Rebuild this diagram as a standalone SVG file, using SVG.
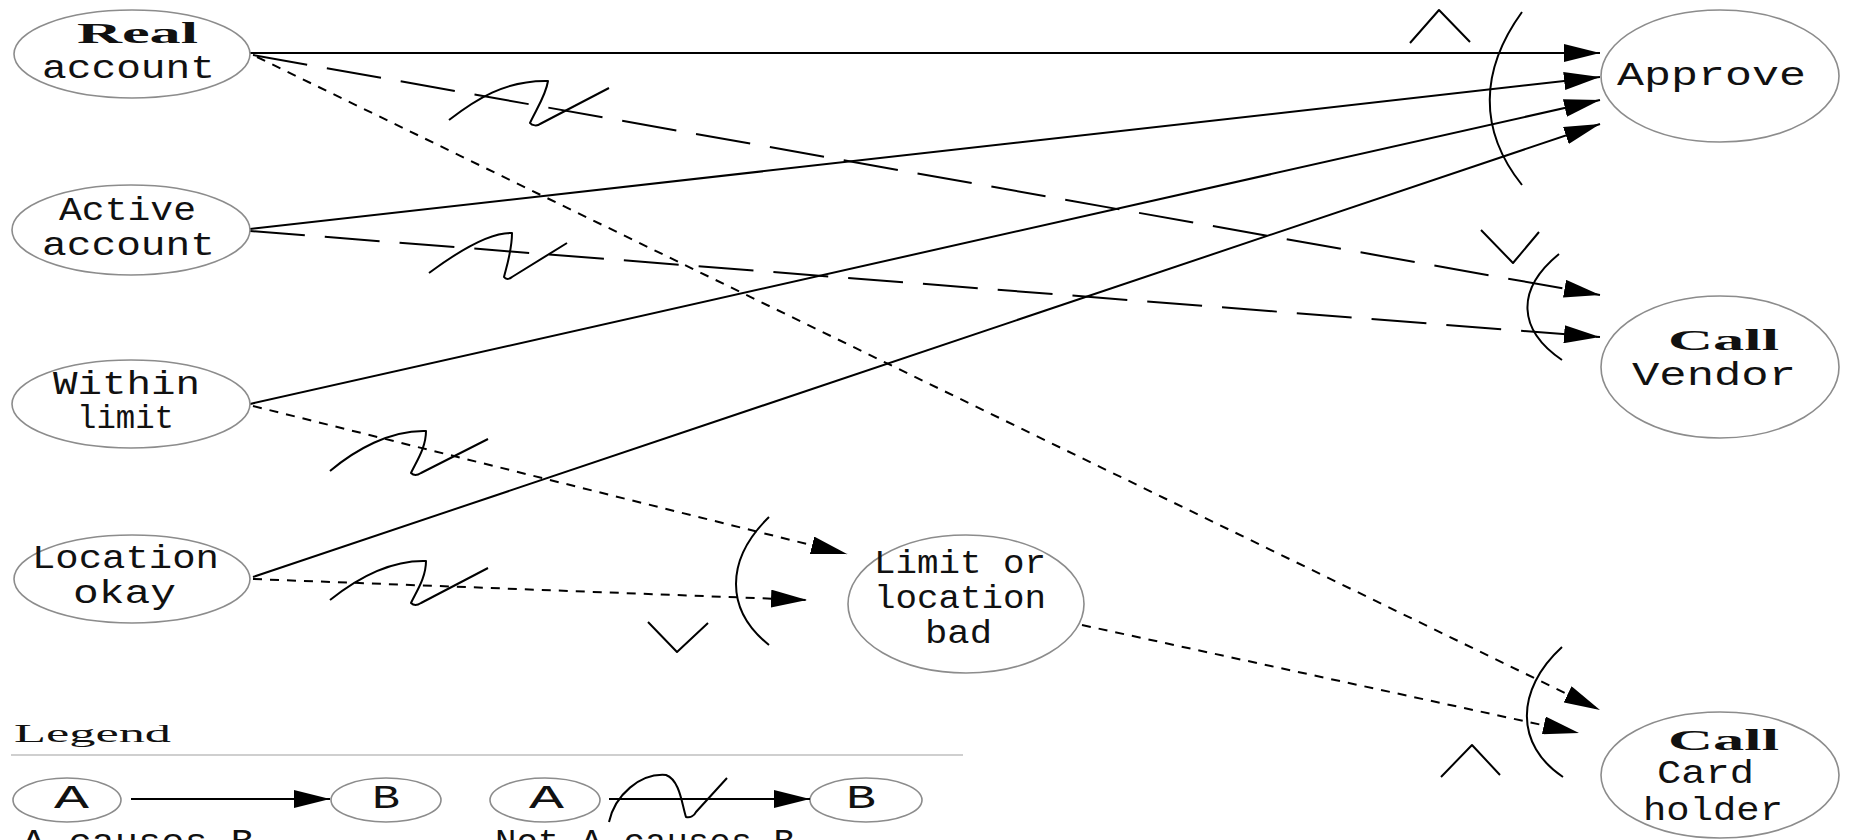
<svg xmlns="http://www.w3.org/2000/svg" width="1849" height="840" viewBox="0 0 1849 840">
<style>
.node ellipse{fill:#fff;stroke:#8c8c8c;stroke-width:1.6}
.lbl{font-family:"Liberation Mono",monospace;font-size:33px;fill:#111}
.bld{font-family:"Liberation Serif",serif;font-weight:bold;font-size:29px;fill:#111}
.ln{stroke:#000;stroke-width:2;fill:none}
.ld{stroke-dasharray:55 20}
.sd{stroke-dasharray:9 8}
.sym{stroke:#000;stroke-width:2;fill:none;stroke-linejoin:round}
.leg{font-family:"Liberation Serif",serif;font-size:26px;fill:#111}
</style>
<defs>
<marker id="ah" markerUnits="userSpaceOnUse" markerWidth="36" markerHeight="18" refX="36" refY="9" orient="auto"><path d="M0,0 L36,9 L0,18 Z" fill="#000"/></marker>
</defs>
<rect width="1849" height="840" fill="#fff"/>
<g id="connectors">
<path class="ln" d="M250,53 L1600,53" marker-end="url(#ah)"/>
<path class="ln" d="M250,229 L1600,77" marker-end="url(#ah)"/>
<path class="ln" d="M250,404 L1600,100" marker-end="url(#ah)"/>
<path class="ln" d="M253,577 L1600,124" marker-end="url(#ah)"/>
<path class="ln ld" d="M253,55 L1600,295" marker-end="url(#ah)"/>
<path class="ln ld" d="M250,231 L1600,337" marker-end="url(#ah)"/>
<path class="ln sd" d="M257,57 L1600,710" marker-end="url(#ah)"/>
<path class="ln sd" d="M253,406 L847,554" marker-end="url(#ah)"/>
<path class="ln sd" d="M253,579 L807,600" marker-end="url(#ah)"/>
<path class="ln sd" d="M1082,625 L1579,733" marker-end="url(#ah)"/>
<path class="sym" d="M449,120 C475,100 505,80 548,81 C546,95 536,110 530,123 C532,126 538,126 540,124 L609,88"/>
<path class="sym" d="M429,273 C460,250 490,232 512,233 C512,250 507,265 504,277 C506,280 510,279 512,277 L567,243"/>
<path class="sym" d="M330,471 C355,450 390,430 426,431 C426,448 416,462 411,473 C414,476 418,475 421,473 L488,439"/>
<path class="sym" d="M330,600 C355,580 390,560 426,561 C426,578 416,592 411,603 C414,606 418,605 421,603 L488,568"/>
<path class="sym" d="M1522,12 C1480,70 1478,130 1522,185"/>
<path class="sym" d="M1410,43 L1439,10 L1470,42"/>
<path class="sym" d="M1559,254 C1515,290 1518,330 1562,360"/>
<path class="sym" d="M1481,230 L1513,263 L1539,232"/>
<path class="sym" d="M769,517 C725,560 725,610 769,645"/>
<path class="sym" d="M648,622 L677,652 L708,623"/>
<path class="sym" d="M1562,647 C1515,690 1515,745 1563,777"/>
<path class="sym" d="M1441,777 L1472,745 L1500,775"/>
</g>
<g id="n-real" class="node"><ellipse cx="132" cy="54" rx="118" ry="44"/><text class="bld" x="77" y="43" textLength="121" lengthAdjust="spacingAndGlyphs">Real</text><text class="lbl" x="42" y="78" textLength="173" lengthAdjust="spacingAndGlyphs">account</text></g>
<g id="n-active" class="node"><ellipse cx="131" cy="230" rx="119" ry="45"/><text class="lbl" x="59" y="220" textLength="137" lengthAdjust="spacingAndGlyphs">Active</text><text class="lbl" x="42" y="255" textLength="173" lengthAdjust="spacingAndGlyphs">account</text></g>
<g id="n-within" class="node"><ellipse cx="131" cy="404" rx="119" ry="44"/><text class="lbl" x="53" y="394" textLength="147" lengthAdjust="spacingAndGlyphs">Within</text><text class="lbl" x="77" y="428" textLength="97" lengthAdjust="spacingAndGlyphs">limit</text></g>
<g id="n-location" class="node"><ellipse cx="132" cy="579" rx="118" ry="44"/><text class="lbl" x="32" y="568" textLength="187" lengthAdjust="spacingAndGlyphs">Location</text><text class="lbl" x="73" y="603" textLength="103" lengthAdjust="spacingAndGlyphs">okay</text></g>
<g id="n-approve" class="node"><ellipse cx="1720" cy="76" rx="119" ry="66"/><text class="lbl" x="1617" y="85" textLength="189" lengthAdjust="spacingAndGlyphs">Approve</text></g>
<g id="n-vendor" class="node"><ellipse cx="1720" cy="367" rx="119" ry="71"/><text class="bld" x="1668" y="350" textLength="111" lengthAdjust="spacingAndGlyphs">Call</text><text class="lbl" x="1632" y="385" textLength="164" lengthAdjust="spacingAndGlyphs">Vendor</text></g>
<g id="n-limit" class="node"><ellipse cx="966" cy="604" rx="118" ry="69"/><text class="lbl" x="874" y="573" textLength="172" lengthAdjust="spacingAndGlyphs">Limit or</text><text class="lbl" x="874" y="608" textLength="172" lengthAdjust="spacingAndGlyphs">location</text><text class="lbl" x="925" y="643" textLength="67" lengthAdjust="spacingAndGlyphs">bad</text></g>
<g id="n-card" class="node"><ellipse cx="1720" cy="775" rx="119" ry="63"/><text class="bld" x="1668" y="750" textLength="111" lengthAdjust="spacingAndGlyphs">Call</text><text class="lbl" x="1657" y="783" textLength="97" lengthAdjust="spacingAndGlyphs">Card</text><text class="lbl" x="1643" y="820" textLength="140" lengthAdjust="spacingAndGlyphs">holder</text></g>
<g id="legend">
<text class="leg" x="14" y="742" textLength="157" lengthAdjust="spacingAndGlyphs">Legend</text>
<line x1="11" y1="755" x2="963" y2="755" stroke="#cfcfcf" stroke-width="2"/>
<g id="leg-a1" class="node"><ellipse cx="67" cy="800" rx="54" ry="22"/><text class="lbl" x="54" y="808" textLength="35" lengthAdjust="spacingAndGlyphs">A</text></g>
<g id="leg-b1" class="node"><ellipse cx="386" cy="800" rx="55" ry="22"/><text class="lbl" x="372" y="808" textLength="28" lengthAdjust="spacingAndGlyphs">B</text></g>
<g id="leg-a2" class="node"><ellipse cx="545" cy="800" rx="55" ry="22"/><text class="lbl" x="529" y="808" textLength="35" lengthAdjust="spacingAndGlyphs">A</text></g>
<g id="leg-b2" class="node"><ellipse cx="866" cy="800" rx="56" ry="22"/><text class="lbl" x="846" y="808" textLength="30" lengthAdjust="spacingAndGlyphs">B</text></g>
<g id="leg-connectors">
<path class="ln" d="M131,799 L330,799" marker-end="url(#ah)"/>
<path class="ln" d="M609,799 L810,799" marker-end="url(#ah)"/>
<path class="sym" d="M609,822 C615,795 640,773 666,775 C680,780 682,805 686,817 C690,818 694,816 696,812 L727,778"/>
</g>
<text class="lbl" x="22" y="852" textLength="232" lengthAdjust="spacingAndGlyphs">A causes B</text>
<text class="lbl" x="495" y="852" textLength="300" lengthAdjust="spacingAndGlyphs">Not A causes B</text>
</g>
</svg>
